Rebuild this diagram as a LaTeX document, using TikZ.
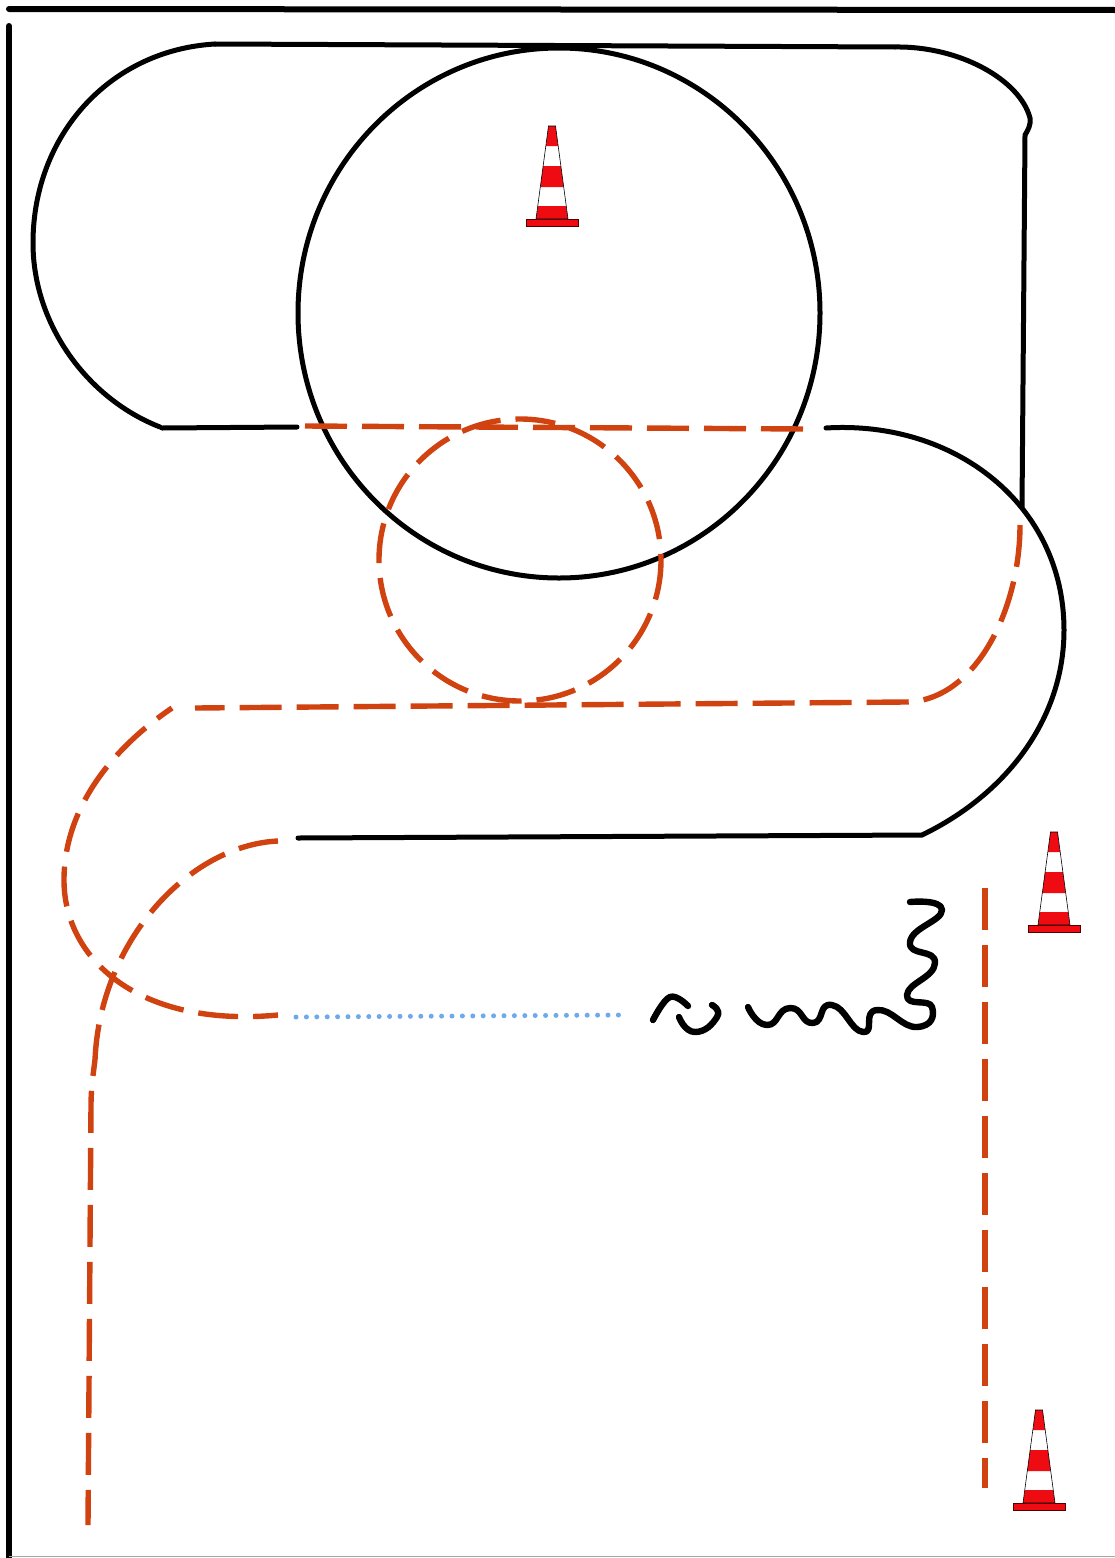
\documentclass[tikz,border=0pt]{standalone}
\usepackage{xcolor}
\usetikzlibrary{calc}
\definecolor{trackclr}{RGB}{208,66,16}
\definecolor{dotclr}{RGB}{110,170,235}
\definecolor{coneclr}{RGB}{238,12,18}
\tikzset{
  wall/.style={line width=6pt,line cap=round},
  ground/.style={line width=5pt,line cap=round},
  track/.style={draw=trackclr,line width=5.4pt,dash pattern=on 42pt off 15pt},
  tight/.style={track,dash pattern=on 40pt off 15pt},
  drift/.style={draw=dotclr,line width=5pt,line cap=round,dash pattern=on 0pt off 10.4pt},
  squiggle/.style={line width=6.4pt,line cap=round,line join=round},
  cone/.pic={
    \fill[white] (-3.5,-100)--(3.5,-100)--(16,-7)--(-16,-7)--cycle;
    \fill[coneclr] (-3.5,-100)--(3.5,-100)--(6,-80)--(-6,-80)--cycle;
    \fill[coneclr] (-8.8,-60)--(8.8,-60)--(11.6,-39)--(-11.6,-39)--cycle;
    \fill[coneclr] (-14,-20)--(14,-20)--(16,-7)--(-16,-7)--cycle;
    \draw[line width=0.6pt] (-3.5,-100)--(3.5,-100)--(16,-7)--(-16,-7)--cycle;
    \filldraw[fill=coneclr,draw=black!70!red,line width=0.6pt] (-26,-7) rectangle (26,0);
  },
}
\begin{document}
\begin{tikzpicture}[x=1pt,y=-1pt]
\useasboundingbox (0,0) rectangle (1115,1558);
% edges of the sheet
\draw[wall] (9,9) -- (1115,10);
\draw[wall] (9,26) -- (9,1558);
\draw[draw=black!35,line width=1pt] (9,1556.5) -- (1115,1556.5);
% upper bend
\draw[ground] (215,44) -- (895,47)
  .. controls (960,46) and (1020,80) .. (1030,118)
  .. controls (1031,125) and (1028,130) .. (1025,135) -- (1022,507);
\draw[ground] (215,44) .. controls (110,50) and (33,135) .. (33,243)
  .. controls (33,325) and (88,399) .. (160,427);
\draw[ground] (162,428) -- (297,427);
\draw[ground] (559,313) ellipse (261 and 265);
\draw[track] (305,426) -- (805,429);
\draw[tight] (520,560) circle (141);
% lower bend
\draw[ground] (826,428) .. controls (955,420) and (1064,505) .. (1064,630)
  .. controls (1064,720) and (1005,795) .. (922,835) -- (298,838);
\draw[track] (1020,525) .. controls (1020,610) and (975,702) .. (905,702) -- (195,708);
\draw[tight,dash phase=22pt] (172,708) .. controls (110,750) and (64,810) .. (64,880)
  .. controls (64,960) and (140,1028) .. (278,1015);
\draw[tight] (278,841) .. controls (190,845) and (100,940) .. (95,1060);
\draw[track,dash phase=26pt] (95,1060) .. controls (93,1075) and (91,1090) .. (91,1105) -- (88,1525);
% straight on the right
\draw[track] (985,888) -- (985,1488);
\draw[drift] (296,1017) -- (620,1015);
% squiggle
\draw[squiggle] plot[smooth,tension=.7] coordinates {(653,1020) (670,997) (688,1006)};
\draw[squiggle] plot[smooth,tension=1] coordinates {(679,1017) (695,1032) (717,1017) (712,1005)};
\draw[squiggle] plot[smooth,tension=1] coordinates {(748,1007) (767,1025) (790,1008)
  (813,1023) (832,1005) (863,1032) (877,1010)
  (917,1027) (932,1007) (907,995) (935,963)
  (910,942) (942,910) (910,902)};
% cones
\pic at (552,226) {cone};
\pic at (1054,932) {cone};
\pic at (1039,1510) {cone};
\end{tikzpicture}
\end{document}
